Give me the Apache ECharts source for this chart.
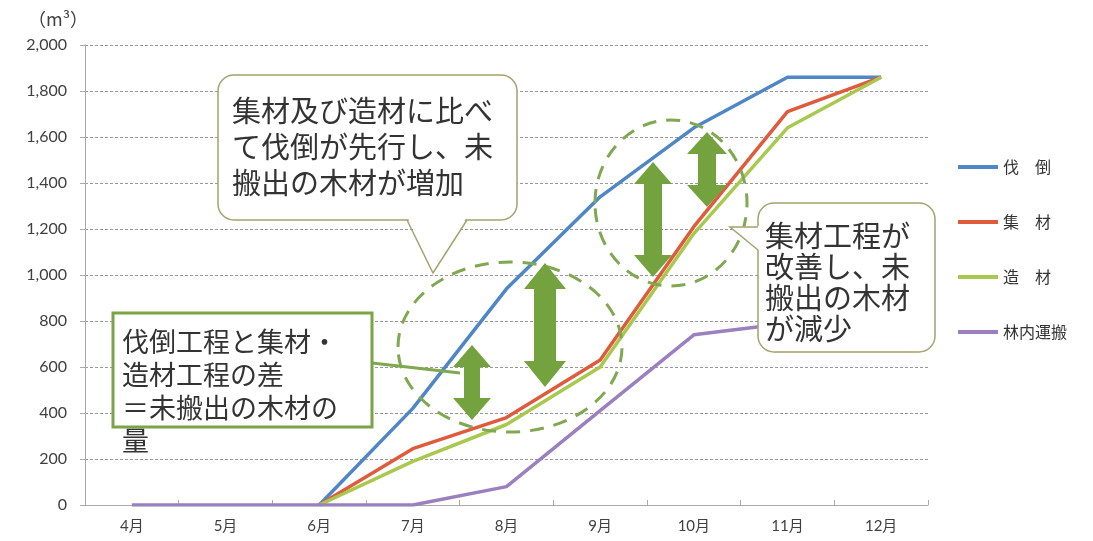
<!DOCTYPE html>
<html><head><meta charset="utf-8">
<script src="https://cdn.jsdelivr.net/npm/echarts@6/dist/echarts.min.js"></script>
<style>html,body{margin:0;padding:0;background:#fff}#c{width:1093px;height:541px}</style>
</head><body><div id="c"></div>
<script>
// ---- data ----
const months = ['4月','5月','6月','7月','8月','9月','10月','11月','12月'];
const felling    = [null, null, 0, 420, 940, 1340, 1640, 1860, 1860];
const yarding    = [null, null, 0, 245, 380, 630, 1210, 1710, 1860];
const bucking    = [null, null, 0, 190, 350, 600, 1180, 1640, 1860];
const forwarding = [0, 0, 0, 0, 80, 410, 740, 790, 830];
const seriesNames = ['伐　倒', '集　材', '造　材', '林内運搬'];
const yMin = 0, yMax = 2000, yStep = 200;
const unitLabel = '（m³）';
const note1 = ['集材及び造材に比べ', 'て伐倒が先行し、未', '搬出の木材が増加'];
const note2 = ['伐倒工程と集材・', '造材工程の差', '＝未搬出の木材の', '量'];
const note3 = ['集材工程が', '改善し、未', '搬出の木材', 'が減少'];

// ---- styles ----
const colors = ['#4f86c6', '#e05a3c', '#a8c84e', '#9b80c0'];
const CJK = '"Noto Sans CJK JP", "Noto Sans", sans-serif';
const NUM = 'Lato, "Noto Sans CJK JP", sans-serif';
const green = '#74a23e';
const olive = '#a3a36e';

function arrow(cx, top, bot, hw, sw, hh) {
  return [[cx, top], [cx + hw / 2, top + hh], [cx + sw / 2, top + hh], [cx + sw / 2, bot - hh],
          [cx + hw / 2, bot - hh], [cx, bot], [cx - hw / 2, bot - hh], [cx - sw / 2, bot - hh],
          [cx - sw / 2, top + hh], [cx - hw / 2, top + hh]];
}

const chart = echarts.init(document.getElementById('c'));
const data = [felling, yarding, bucking, forwarding];

const graphics = [
  { type: 'text', left: 28, top: 10, z: 100, style: { text: unitLabel, font: '18px ' + CJK, fill: '#404040' } },
  // dashed ellipses
  { type: 'ellipse', z: 90, shape: { cx: 510, cy: 347, rx: 112, ry: 85 },
    style: { fill: 'none', stroke: '#7fa850', lineWidth: 3, lineDash: [14, 10] } },
  { type: 'ellipse', z: 90, shape: { cx: 671, cy: 203, rx: 76, ry: 83 },
    style: { fill: 'none', stroke: '#7fa850', lineWidth: 3, lineDash: [14, 10] } },
  // arrows
  { type: 'polygon', z: 95, shape: { points: arrow(472, 345, 420, 38, 16, 22) }, style: { fill: green } },
  { type: 'polygon', z: 95, shape: { points: arrow(545, 263, 387, 42, 22, 26) }, style: { fill: green } },
  { type: 'polygon', z: 95, shape: { points: arrow(653, 162, 277, 38, 18, 22) }, style: { fill: green } },
  { type: 'polygon', z: 95, shape: { points: arrow(707, 132, 207, 40, 18, 22) }, style: { fill: green } },
  // callout 1
  { type: 'rect', z: 100, shape: { x: 218, y: 75, width: 299, height: 145, r: 16 },
    style: { fill: '#fff', stroke: olive, lineWidth: 1.5 } },
  { type: 'polygon', z: 101, shape: { points: [[408, 218], [433, 273], [466, 218]] },
    style: { fill: '#fff' } },
  { type: 'polyline', z: 102, shape: { points: [[407, 220], [433, 273], [467, 220]] },
    style: { fill: 'none', stroke: olive, lineWidth: 1.5 } },
  { type: 'text', z: 103, x: 232, y: 93,
    style: { text: note1.join('\n'), font: '29px ' + CJK, fill: '#333', lineHeight: 36 } },
  // box 2
  { type: 'line', z: 100, shape: { x1: 372, y1: 363, x2: 460, y2: 373 },
    style: { stroke: '#7fa850', lineWidth: 3 } },
  { type: 'rect', z: 100, shape: { x: 113, y: 313, width: 259, height: 114 },
    style: { fill: '#fff', stroke: '#7aa447', lineWidth: 3 } },
  { type: 'text', z: 103, x: 122, y: 325,
    style: { text: note2.join('\n'), font: '27px ' + CJK, fill: '#333', lineHeight: 33 } },
  // callout 3
  { type: 'rect', z: 100, shape: { x: 758, y: 203, width: 177, height: 149, r: 16 },
    style: { fill: '#fff', stroke: olive, lineWidth: 1.5 } },
  { type: 'polygon', z: 101, shape: { points: [[760, 226], [730, 227], [760, 251]] },
    style: { fill: '#fff' } },
  { type: 'polyline', z: 102, shape: { points: [[758, 227], [730, 227], [758, 250]] },
    style: { fill: 'none', stroke: olive, lineWidth: 1.5 } },
  { type: 'text', z: 103, x: 765, y: 220,
    style: { text: note3.join('\n'), font: '29px ' + CJK, fill: '#333', lineHeight: 31 } }
];

chart.setOption({
  animation: false,
  backgroundColor: '#fff',
  color: colors,
  grid: { left: 85, right: 165, top: 45, bottom: 36 },
  legend: {
    orient: 'vertical', left: 953, top: 152, itemWidth: 40, itemHeight: 4, itemGap: 35,
    icon: 'rect', data: seriesNames,
    textStyle: { fontFamily: CJK, fontSize: 16, color: '#333', lineHeight: 20 }
  },
  xAxis: {
    type: 'category', data: months, boundaryGap: true,
    axisLine: { lineStyle: { color: '#aaa' } },
    axisTick: { show: true, inside: true, length: 5, lineStyle: { color: '#aaa' } },
    axisLabel: { fontFamily: NUM, fontSize: 15, color: '#404040', margin: 14 }
  },
  yAxis: {
    type: 'value', min: yMin, max: yMax, interval: yStep,
    axisLine: { show: true, lineStyle: { color: '#aaa' } },
    axisTick: { show: true, length: 5, lineStyle: { color: '#aaa' } },
    axisLabel: { fontFamily: NUM, fontSize: 16, color: '#404040', margin: 18,
      formatter: v => v.toLocaleString('en-US') },
    splitLine: { lineStyle: { color: '#999', type: [3, 2] } }
  },
  series: seriesNames.map((n, i) => ({
    name: n, type: 'line', data: data[i], symbol: 'none', connectNulls: false,
    lineStyle: { width: 3.5, color: colors[i] }, z: 2 + i
  })),
  graphic: graphics
});
</script></body></html>
